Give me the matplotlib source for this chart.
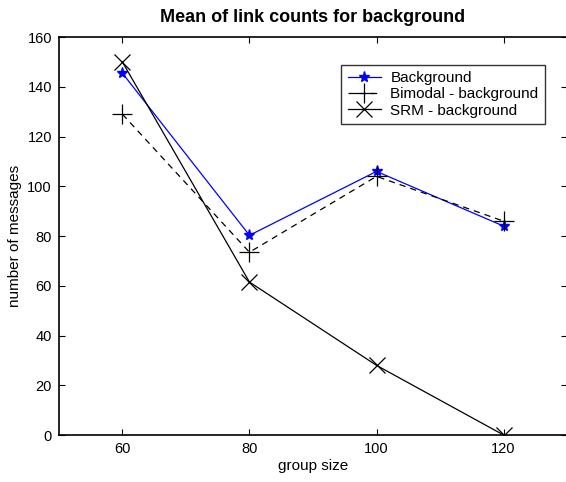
import matplotlib
matplotlib.use('Agg')
import matplotlib.pyplot as plt

plt.rcParams['font.family'] = ['Liberation Sans', 'DejaVu Sans']

group_size = [60, 80, 100, 120]
background = [145.5, 80.3, 106, 84]
bimodal = [129, 73.5, 104, 86]
srm = [150, 61.5, 28, 0]

fig = plt.figure(figsize=(5.66, 4.82), dpi=100)
ax = fig.add_axes([0.104, 0.0975, 0.898, 0.8255])

ax.plot(group_size, background, color='blue', lw=0.9, marker='*', ms=8,
        label='Background')
ax.plot(group_size, bimodal, color='black', lw=0.9, ls=(0, (5, 4)), marker='+',
        ms=15, mew=0.9, label='Bimodal - background')
ax.plot(group_size, srm, color='black', lw=0.9, marker='x', ms=11, mew=0.9,
        label='SRM - background')

ax.set_xlim(50, 130)
ax.set_ylim(0, 160)
ax.set_xticks(group_size)
ax.set_yticks(range(0, 161, 20))
ax.tick_params(direction='in', top=True, right=True, length=4, width=0.8,
               labelsize=10.5, pad=5)
for s in ax.spines.values():
    s.set_linewidth(1.2)

ax.set_xlabel('group size', fontsize=11, labelpad=2)
ax.set_ylabel('number of messages', fontsize=11, labelpad=4)
ax.set_title('Mean of link counts for background', fontsize=13,
             fontweight='bold', pad=11)

leg = ax.legend(loc='upper left', bbox_to_anchor=(0.556, 0.93), fontsize=11,
                frameon=True, fancybox=False, edgecolor='black',
                handlelength=2.2, handletextpad=0.6, borderpad=0.4,
                labelspacing=0.15, borderaxespad=0)
leg.get_frame().set_linewidth(1.0)

fig.savefig('out.png', dpi=100)
